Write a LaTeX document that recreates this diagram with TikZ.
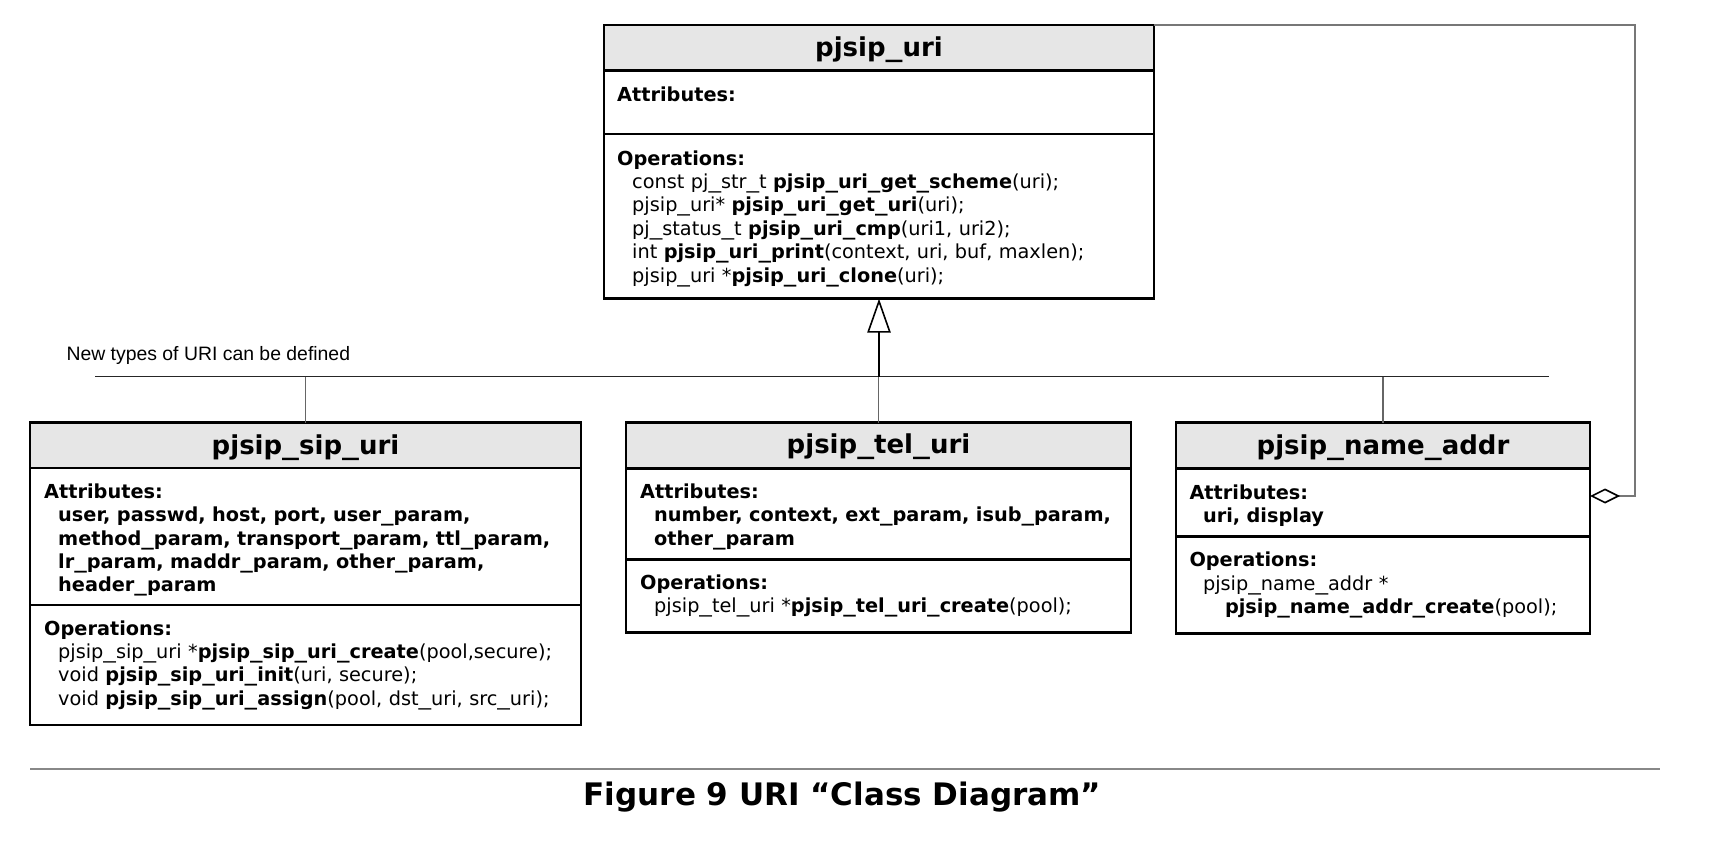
\documentclass[tikz,border=0pt]{standalone}
\usepackage{fontspec}
\setmainfont{DejaVu Sans}
\newfontfamily\labelfont{Liberation Sans}
\usepackage{graphicx}
\usetikzlibrary{arrows.meta}
\definecolor{hdrgray}{HTML}{E6E6E6}
\definecolor{linkgray}{HTML}{666666}
\definecolor{agggray}{HTML}{777777}
\definecolor{rulegray}{HTML}{888888}
\newcommand{\us}{\scalebox{1.3}[1]{\_}}
\begin{document}
\begin{tikzpicture}[x=1pt,y=-1pt,
  comp/.style={draw=black, line width=2.5pt, rectangle, anchor=north west, inner sep=0pt, outer sep=0pt},
  hdr/.style={comp, fill=hdrgray},
  title/.style={anchor=base, inner sep=0pt, font=\fontsize{26}{30}\selectfont\bfseries},
  body/.style={anchor=base west, inner sep=0pt, text width=600pt, align=left, font=\fontsize{19.3}{23.4}\selectfont},
  link/.style={draw=linkgray, line width=1.2pt},
  agg/.style={draw=agggray, line width=1.5pt},
  trunk/.style={draw=black!85, line width=1.5pt}]
\useasboundingbox (0,0) rectangle (1734,854);

% ---------- pjsip_uri ----------
\node[hdr, minimum width=550pt, minimum height=45.7pt] (uriH) at (604,25) {};
\node[comp, minimum width=550pt, minimum height=63.3pt] (uriA) at (uriH.south west) {};
\node[comp, minimum width=550pt, minimum height=164.7pt] (uriO) at (uriA.south west) {};
\node[title] (uriT) at (879,56) {pjsip\us uri};
\node[body] (uriAt) at (617,101) {\textbf{Attributes:}};
\node[body] (uriOt) at (617,165) {\textbf{Operations:}\\
\hspace*{15pt}const pj\us str\us t \textbf{pjsip\us uri\us get\us scheme}(uri);\\
\hspace*{15pt}pjsip\us uri* \textbf{pjsip\us uri\us get\us uri}(uri);\\
\hspace*{15pt}pj\us status\us t \textbf{pjsip\us uri\us cmp}(uri1, uri2);\\
\hspace*{15pt}int \textbf{pjsip\us uri\us print}(context, uri, buf, maxlen);\\
\hspace*{15pt}pjsip\us uri *\textbf{pjsip\us uri\us clone}(uri);};

% ---------- pjsip_sip_uri ----------
\node[hdr, minimum width=551pt, minimum height=45.3pt] (sipH) at (30,422.5) {};
\node[comp, minimum width=551pt, minimum height=137.2pt] (sipA) at (sipH.south west) {};
\node[comp, minimum width=551pt, minimum height=120pt] (sipO) at (sipA.south west) {};
\node[title] (sipT) at (305.5,454) {pjsip\us sip\us uri};
\node[body] (sipAt) at (44,498.3) {\textbf{Attributes:}\\
\hspace*{14pt}\textbf{user, passwd, host, port, user\us param,}\\
\hspace*{14pt}\textbf{method\us param, transport\us param, ttl\us param,}\\
\hspace*{14pt}\textbf{lr\us param, maddr\us param, other\us param,}\\
\hspace*{14pt}\textbf{header\us param}};
\node[body] (sipOt) at (44,635) {\textbf{Operations:}\\
\hspace*{14pt}pjsip\us sip\us uri *\textbf{pjsip\us sip\us uri\us create}(pool,secure);\\
\hspace*{14pt}void \textbf{pjsip\us sip\us uri\us init}(uri, secure);\\
\hspace*{14pt}void \textbf{pjsip\us sip\us uri\us assign}(pool, dst\us uri, src\us uri);};

% ---------- pjsip_tel_uri ----------
\node[hdr, minimum width=505pt, minimum height=45.8pt] (telH) at (626,422.5) {};
\node[comp, minimum width=505pt, minimum height=91pt] (telA) at (telH.south west) {};
\node[comp, minimum width=505pt, minimum height=73.4pt] (telO) at (telA.south west) {};
\node[title] (telT) at (878.5,453.5) {pjsip\us tel\us uri};
\node[body] (telAt) at (640,498.3) {\textbf{Attributes:}\\
\hspace*{14pt}\textbf{number, context, ext\us param, isub\us param,}\\
\hspace*{14pt}\textbf{other\us param}};
\node[body] (telOt) at (640,589.3) {\textbf{Operations:}\\
\hspace*{14pt}pjsip\us tel\us uri *\textbf{pjsip\us tel\us uri\us create}(pool);};

% ---------- pjsip_name_addr ----------
\node[hdr, minimum width=414pt, minimum height=45.8pt] (nameH) at (1176,422.5) {};
\node[comp, minimum width=414pt, minimum height=68.4pt] (nameA) at (nameH.south west) {};
\node[comp, minimum width=414pt, minimum height=96.6pt] (nameO) at (nameA.south west) {};
\node[title] (nameT) at (1383,454) {pjsip\us name\us addr};
\node[body] (nameAt) at (1189.3,499) {\textbf{Attributes:}\\
\hspace*{13.5pt}\textbf{uri, display}};
\node[body] (nameOt) at (1189.3,566.7) {\textbf{Operations:}\\
\hspace*{13.5pt}pjsip\us name\us addr *\\
\hspace*{35.5pt}\textbf{pjsip\us name\us addr\us create}(pool);};

% ---------- generalization ----------
\node[anchor=base west, inner sep=0pt, font=\labelfont\fontsize{19.4}{23}\selectfont] (newtypes) at (66.3,360.7) {New types of URI can be defined};
\coordinate (hl) at (95,376.7);
\coordinate (hr) at (1549,376.7);
\coordinate (genJ) at (879,376.7);
\draw[trunk] (hl) -- (hr);
\draw[line width=2pt, -{Triangle[open, length=34pt, width=23.4pt, line width=1.6pt]}] (genJ) -- (uriO.south);
\draw[link] (sipH.north |- hl) -- (sipH.north);
\draw[link] (telH.north |- hl) -- (telH.north);
\draw[link] (nameH.north |- hl) -- (nameH.north);

% ---------- aggregation ----------
\coordinate (aggC) at (1635,496);
\draw[agg, {Diamond[open, length=30pt, width=15pt, line width=1.6pt, color=black]}-] (nameA.east |- aggC) -- (aggC) |- (uriH.north east);

% ---------- caption ----------
\draw[draw=rulegray, line width=2pt] (30,769) -- (1660,769);
\node[anchor=base, inner sep=0pt, font=\fontsize{31}{36}\selectfont\bfseries] (cap) at (842.5,805) {Figure 9 URI “Class Diagram”};
\end{tikzpicture}
\end{document}
